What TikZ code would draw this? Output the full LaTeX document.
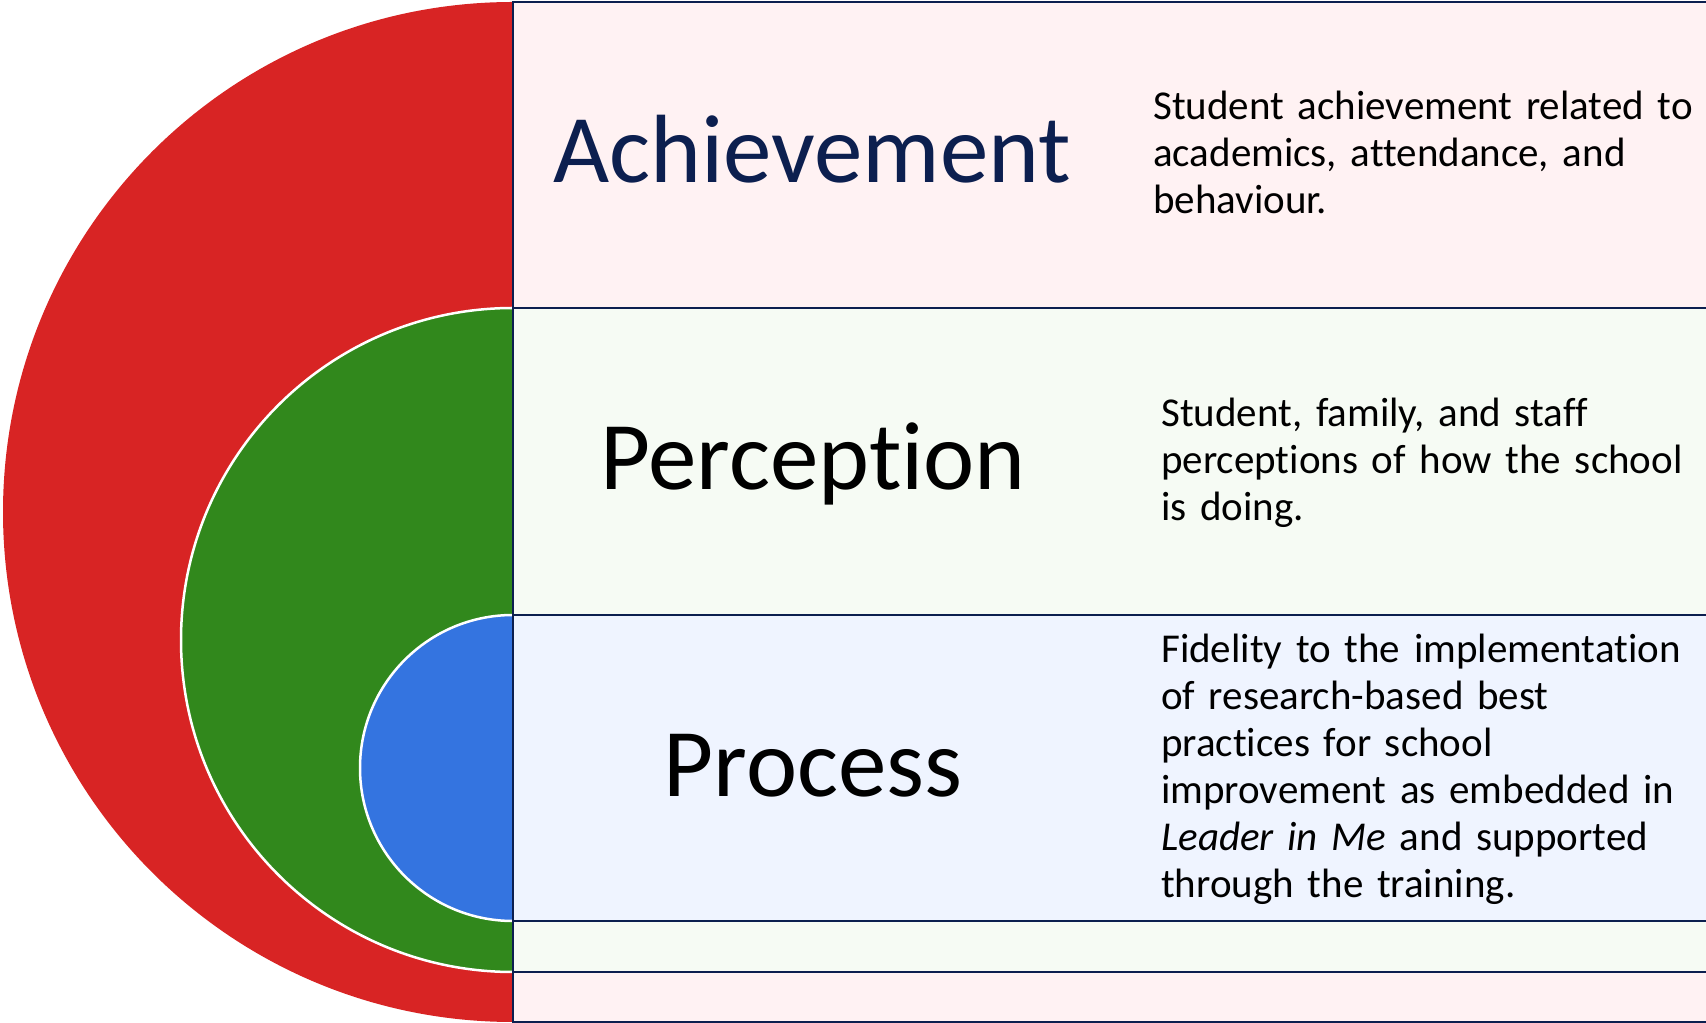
\documentclass[tikz,border=0pt]{standalone}
\usepackage{fontspec}
\setmainfont{Carlito}[Ligatures=CommonOff]

\definecolor{achred}{HTML}{D82424}
\definecolor{pergreen}{HTML}{31881C}
\definecolor{problue}{HTML}{3474E0}
\definecolor{achfill}{HTML}{FFF2F3}
\definecolor{perfill}{HTML}{F6FBF4}
\definecolor{profill}{HTML}{EFF4FF}
\definecolor{navyline}{HTML}{0C1F4F}

\tikzset{
  rowline/.style={draw=navyline, line width=2.5pt},
  ring/.style={draw=white, line width=2.5pt},
  biglabel/.style={anchor=base, inner sep=0pt, font=\fontsize{97}{110}\selectfont},
  desc/.style={anchor=north west, inner sep=0pt, align=left, text width=560pt,
               font=\fontsize{41}{47}\selectfont}
}

\begin{document}
\begin{tikzpicture}[x=1pt,y=1pt]
\useasboundingbox (0,0) rectangle (1706,1023);
\scope % nested half discs
\fill[achred] (513,1021) arc[start angle=90,end angle=270,radius=510] -- cycle;
\fill[pergreen] (513,715) arc[start angle=90,end angle=270,radius=332] -- cycle;
\draw[ring] (513,715) arc[start angle=90,end angle=270,radius=332];
\fill[problue] (513,408) arc[start angle=90,end angle=270,radius=153] -- cycle;
\draw[ring] (513,408) arc[start angle=90,end angle=270,radius=153];
\endscope
% rows
\filldraw[rowline, fill=achfill] (513,715) rectangle (1712,1021);
\filldraw[rowline, fill=perfill] (513,408) rectangle (1712,715);
\filldraw[rowline, fill=profill] (513,102) rectangle (1712,408);
\filldraw[rowline, fill=perfill] (513,51) rectangle (1712,102);
\filldraw[rowline, fill=achfill] (513,1) rectangle (1712,51);
% labels
\node[biglabel, text=navyline] (achievement) at (812,840) {Achievement};
\node[biglabel] (perception) at (813,533) {Perception};
\node[biglabel] (process) at (813,226) {Process};
% descriptions
\node[desc] (achtext) at (1153,932) {Student achievement related to\\
  academics, attendance, and\\ behaviour.};
\node[desc] (pertext) at (1161,625) {Student, family, and staff\\
  perceptions of how the school\\ is doing.};
\node[desc] (protext) at (1161,389) {Fidelity to the implementation\\
  of research-based best\\ practices for school\\
  improvement as embedded in\\ \textit{Leader in Me} and supported\\
  through the training.};
\end{tikzpicture}
\end{document}
